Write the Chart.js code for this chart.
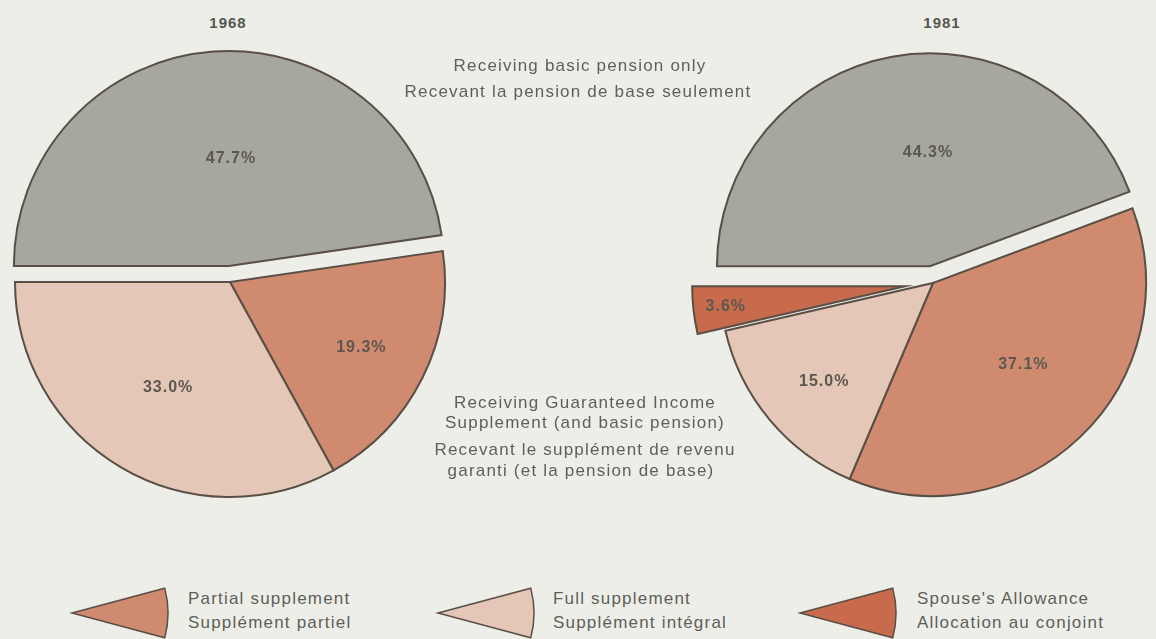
<!DOCTYPE html>
<html>
<head>
<meta charset="utf-8">
<script src="https://cdn.jsdelivr.net/npm/chart.js@4.4.1/dist/chart.umd.min.js"></script>
<style>
  html, body { margin: 0; padding: 0; }
  body {
    width: 1156px; height: 639px; overflow: hidden; position: relative;
    background: #eeeee9; color: #5e5f58;
    font-family: 'Liberation Sans', Arial, sans-serif;
  }
  .pie { position: absolute; width: 500px; height: 500px; }
  .txt { position: absolute; white-space: nowrap; transform: translate(-50%, -50%); font-size: 17px; letter-spacing: 1.2px; z-index: 2; }
  .year { font-weight: bold; font-size: 15px; letter-spacing: 1px; color: #55564f; }
  .leg { position: absolute; white-space: nowrap; font-size: 17px; letter-spacing: 1.2px; transform: translateY(-50%); }
  .icon { position: absolute; }
</style>
</head>
<body>

<div class="txt year" style="left:228px; top:22px">1968</div>
<div class="txt year" style="left:942px; top:22px">1981</div>

<div class="txt" style="left:580px; top:66px">Receiving basic pension only</div>
<div class="txt" style="left:578px; top:92px">Recevant la pension de base seulement</div>

<div class="txt" style="left:585px; top:403px">Receiving Guaranteed Income</div>
<div class="txt" style="left:585px; top:423px">Supplement (and basic pension)</div>
<div class="txt" style="left:585px; top:450px">Recevant le supplément de revenu</div>
<div class="txt" style="left:581px; top:471px">garanti (et la pension de base)</div>

<div class="pie" style="left:-20px; top:32px"><canvas id="pie1968"></canvas></div>
<div class="pie" style="left:683px; top:33px"><canvas id="pie1981"></canvas></div>

<canvas class="icon" id="icon0" width="104" height="60" style="left:68px; top:583px"></canvas>
<canvas class="icon" id="icon1" width="104" height="60" style="left:434px; top:583px"></canvas>
<canvas class="icon" id="icon2" width="104" height="60" style="left:796px; top:583px"></canvas>

<div class="leg" style="left:188px; top:599px">Partial supplement</div>
<div class="leg" style="left:188px; top:623px">Supplément partiel</div>
<div class="leg" style="left:553px; top:599px">Full supplement</div>
<div class="leg" style="left:553px; top:623px">Supplément intégral</div>
<div class="leg" style="left:917px; top:599px">Spouse's Allowance</div>
<div class="leg" style="left:917px; top:623px">Allocation au conjoint</div>

<script>
// Data
const categories = ['Receiving basic pension only', 'Partial supplement', 'Full supplement', "Spouse's Allowance"];
const shares1968 = [47.7, 19.3, 33.0];
const shares1981 = [44.3, 37.1, 15.0, 3.6];

const sliceColors = ['#a6a79d', '#cf8a70', '#e4c7b7', '#c76b4c'];
const outline = '#5a4f47';

// pulls chosen slices out along their mid angle, and writes the % labels
function pieExtras(values, shift, labelPos) {
    return {
        id: 'pieExtras',
        beforeDatasetDraw(chart, args) {
            args.meta.data.forEach((arc, i) => {
                const mid = (arc.startAngle + arc.endAngle) / 2;
                arc._dx = Math.cos(mid) * (shift[i] || 0);
                arc._dy = Math.sin(mid) * (shift[i] || 0);
                arc.x += arc._dx;
                arc.y += arc._dy;
            });
        },
        afterDatasetDraw(chart, args) {
            args.meta.data.forEach(arc => {
                arc.x -= arc._dx;
                arc.y -= arc._dy;
            });
        },
        afterDatasetsDraw(chart) {
            const ctx = chart.ctx;
            const meta = chart.getDatasetMeta(0);
            ctx.save();
            ctx.font = "bold 16px 'Liberation Sans', Arial, sans-serif";
            ctx.letterSpacing = '1px';
            ctx.fillStyle = '#5d5750';
            ctx.textAlign = 'center';
            ctx.textBaseline = 'middle';
            meta.data.forEach((arc, i) => {
                const mid = (arc.startAngle + arc.endAngle) / 2;
                const d = shift[i] || 0;
                const a = mid + labelPos[i][1] * Math.PI / 180;
                const r = labelPos[i][0] * arc.outerRadius;
                const x = arc.x + Math.cos(mid) * d + Math.cos(a) * r;
                const y = arc.y + Math.sin(mid) * d + Math.sin(a) * r;
                ctx.fillText(values[i].toFixed(1) + '%', x + 0.5, y);
            });
            ctx.restore();
        }
    };
}

function makePie(id, values, radius, shift, labelPos) {
    return new Chart(document.getElementById(id), {
        type: 'pie',
        data: {
            labels: categories.slice(0, values.length),
            datasets: [{
                data: values,
                backgroundColor: sliceColors.slice(0, values.length),
                borderColor: outline,
                borderWidth: 2,
                borderJoinStyle: 'miter',
                radius: radius
            }]
        },
        options: {
            responsive: true,
            maintainAspectRatio: false,
            animation: false,
            rotation: -90,
            layout: { padding: 0 },
            events: [],
            plugins: {
                legend: { display: false },
                tooltip: { enabled: false }
            }
        },
        plugins: [pieExtras(values, shift, labelPos)]
    });
}

makePie('pie1968', shares1968, 215, [16, 0, 0], [[0.5, 5], [0.68, 0], [0.57, 0]]);
makePie('pie1981', shares1981, 213, [17, 0, 0, 28], [[0.535, 9], [0.57, -4], [0.69, -2], [0.85, 0]]);

// legend wedges
function drawWedge(id, color) {
    const c = document.getElementById(id).getContext('2d');
    const tx = 4, ty = 30, r = 96, h = 15 * Math.PI / 180;
    c.beginPath();
    c.moveTo(tx, ty);
    c.arc(tx, ty, r, -h, h);
    c.closePath();
    c.fillStyle = color;
    c.fill();
    c.strokeStyle = outline;
    c.lineWidth = 1.5;
    c.lineJoin = 'miter';
    c.stroke();
}
drawWedge('icon0', sliceColors[1]);
drawWedge('icon1', sliceColors[2]);
drawWedge('icon2', sliceColors[3]);
</script>
</body>
</html>
